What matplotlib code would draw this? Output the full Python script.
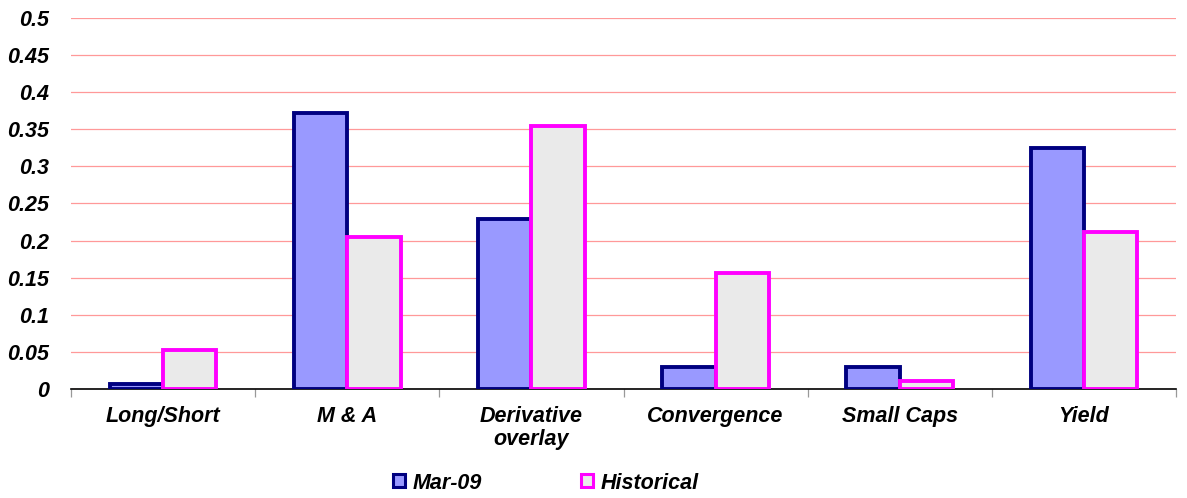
import numpy as np
import matplotlib.pyplot as plt
from matplotlib.patches import Patch

categories = ['Long/Short', 'M & A', 'Derivative\noverlay', 'Convergence', 'Small Caps', 'Yield']
mar09 = [0.007, 0.372, 0.229, 0.030, 0.030, 0.325]
historical = [0.053, 0.205, 0.354, 0.156, 0.011, 0.212]
yticks = [0, 0.05, 0.1, 0.15, 0.2, 0.25, 0.3, 0.35, 0.4, 0.45, 0.5]

plt.rcParams['font.family'] = ['Liberation Sans', 'DejaVu Sans']
fs = 15.5

fig = plt.figure(figsize=(11.87, 4.98), dpi=100)
ax = fig.add_axes([0.0598, 0.219, 0.931, 0.745])

x = np.arange(len(categories))
w = 0.29
ax.bar(x - w / 2, mar09, w, facecolor='#9999FF', edgecolor='#000080', linewidth=2.8, label='Mar-09', zorder=3)
ax.bar(x + w / 2, historical, w, facecolor='#EAEAEA', edgecolor='#FF00FF', linewidth=2.8, label='Historical', zorder=3)

ax.set_xlim(-0.5, len(categories) - 0.5)
ax.set_ylim(0, 0.5)
ax.set_yticks(yticks)
ax.set_yticklabels([f'{v:g}' for v in yticks], fontsize=fs, fontweight='bold', fontstyle='italic')
ax.yaxis.grid(True, color='#FF9999', linewidth=0.9, zorder=0)
ax.tick_params(axis='y', length=0, pad=16)

ax.set_xticks(x)
ax.set_xticklabels(categories, fontsize=fs, fontweight='bold', fontstyle='italic', linespacing=1.15)
ax.tick_params(axis='x', length=0, pad=12)
ax.set_xticks(np.arange(len(categories) + 1) - 0.5, minor=True)
ax.tick_params(axis='x', which='minor', length=6, color='#999999', width=0.9)

for s in ['top', 'right', 'left']:
    ax.spines[s].set_visible(False)
ax.spines['bottom'].set_linewidth(1.2)

handles = [Patch(facecolor='#9999FF', edgecolor='#000080', linewidth=2.2),
           Patch(facecolor='#EAEAEA', edgecolor='#FF00FF', linewidth=2.2)]
fig.legend(handles, ['Mar-09', 'Historical'], loc='center', bbox_to_anchor=(0.46, 0.03), ncol=2,
           frameon=False, handlelength=0.55, handleheight=0.55, handletextpad=0.35, columnspacing=4.6,
           prop={'size': fs, 'weight': 'bold', 'style': 'italic'})

fig.savefig('out.png', dpi=100)
